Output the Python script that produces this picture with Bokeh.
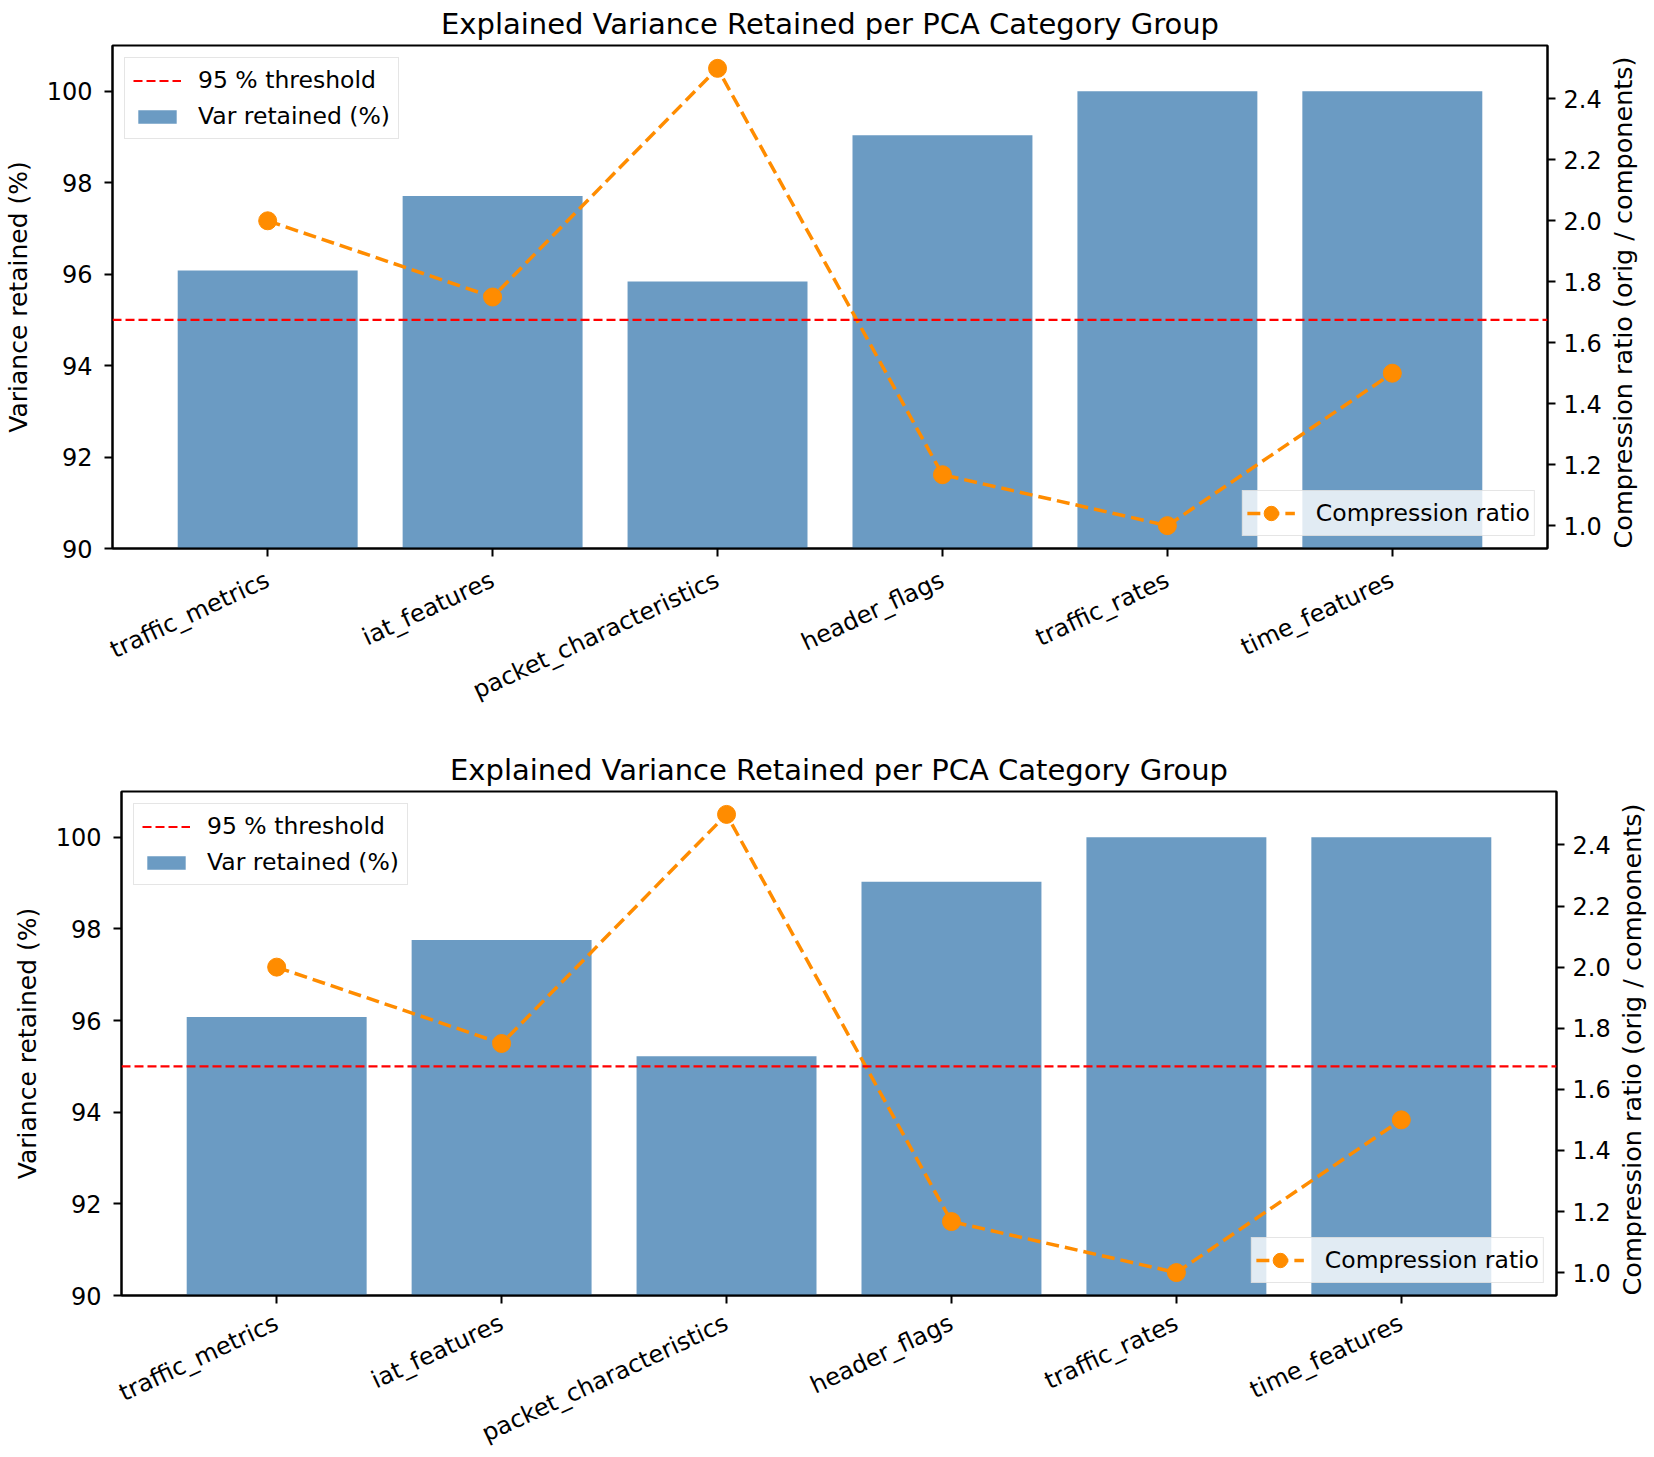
import math
from bokeh.plotting import figure
from bokeh.models import (Range1d, LinearAxis, Span, Legend, LegendItem, SingleIntervalTicker,
                          PrintfTickFormatter, FactorRange, ColumnDataSource, Spacer)
from bokeh.layouts import column, row
from bokeh.embed import file_html
from bokeh.resources import INLINE

# ---------------- data ----------------
categories = ["traffic_metrics", "iat_features", "packet_characteristics",
              "header_flags", "traffic_rates", "time_features"]
var_retained_top = [96.08, 97.71, 95.84, 99.04, 100.0, 100.0]
var_retained_bottom = [96.08, 97.76, 95.22, 99.03, 100.0, 100.0]
compression_ratio = [2.0, 1.75, 2.5, 1.167, 1.0, 1.5]
threshold = 95.0
y_limits = (90, 101)
ratio_limits = (0.925, 2.575)

title_text = "Explained Variance Retained per PCA Category Group"
y_label = "Variance retained (%)"
y2_label = "Compression ratio (orig / components)"
threshold_label = "95 % threshold"
bar_label = "Var retained (%)"
ratio_label = "Compression ratio"

FONT = "DejaVu Sans"
FRAME_W = 1435


def make_chart(values, border_top, border_bottom, frame_h, xlabel_standoff):
    src = ColumnDataSource(dict(cat=categories, var=values, ratio=compression_ratio))
    p = figure(x_range=FactorRange(*categories, range_padding=0.0633),
               y_range=Range1d(*y_limits),
               frame_width=FRAME_W, frame_height=frame_h,
               min_border_left=104, min_border_right=90,
               min_border_top=border_top, min_border_bottom=border_bottom,
               output_backend="svg", toolbar_location=None, title=title_text)
    p.extra_y_ranges = {"ratio": Range1d(*ratio_limits)}

    p.title.text_font = FONT
    p.title.text_font_size = "29px"
    p.title.text_font_style = "normal"
    p.title.text_color = "black"
    p.title.align = "center"
    p.title.standoff = 9

    p.xgrid.visible = False
    p.ygrid.visible = False
    p.outline_line_color = "black"
    p.outline_line_width = 2
    p.background_fill_color = "white"

    bars = p.vbar(x="cat", top="var", bottom=0, width=0.8, source=src,
                  fill_color="steelblue", fill_alpha=0.8, line_color=None)

    p.add_layout(Span(location=threshold, dimension="width", line_color="red",
                      line_dash="9 4", line_width=2.2))
    # legend-only stand-in for the threshold span (no drawable point)
    thr_legend = p.line(x=[categories[0]], y=[float("nan")], line_color="red",
                        line_dash="9 4", line_width=2.2)

    line_r = p.line(x="cat", y="ratio", source=src, y_range_name="ratio",
                    line_color="darkorange", line_dash="13 6", line_width=3.5)
    scat_r = p.scatter(x="cat", y="ratio", source=src, y_range_name="ratio",
                       size=18, fill_color="darkorange", line_color="darkorange")

    xa = p.xaxis[0]
    ya = p.yaxis[0]
    ya.ticker = SingleIntervalTicker(interval=2, num_minor_ticks=0)
    ya.axis_label = y_label
    ra = LinearAxis(y_range_name="ratio",
                    ticker=SingleIntervalTicker(interval=0.2, num_minor_ticks=0),
                    formatter=PrintfTickFormatter(format="%.1f"),
                    axis_label=y2_label)
    p.add_layout(ra, "right")
    for ax in (xa, ya, ra):
        ax.axis_line_width = 2
        ax.axis_line_color = "black"
        ax.major_tick_line_width = 2
        ax.major_tick_line_color = "black"
        ax.major_tick_out = 8
        ax.major_tick_in = 0
        ax.minor_tick_out = 0
        ax.minor_tick_in = 0
        ax.major_label_text_font = FONT
        ax.major_label_text_font_size = "24px"
        ax.major_label_text_color = "black"
        ax.major_label_standoff = 8
        ax.axis_label_text_font = FONT
        ax.axis_label_text_font_size = "25px"
        ax.axis_label_text_font_style = "normal"
        ax.axis_label_text_color = "black"
        ax.axis_label_standoff = 10
    xa.major_label_orientation = math.radians(25)
    xa.major_label_standoff = xlabel_standoff
    ya.major_label_standoff = 12
    ya.axis_label_standoff = 11

    # right-hand label reads bottom-to-top, as in the reference
    props = ra.properties()
    if "axis_label_orientation" in props:
        ra.axis_label_orientation = math.pi / 2
    if "axis_label_align" in props:
        ra.axis_label_align = "start"
    ra.axis_label_standoff = 18
    ra.axis_label_text_font_size = "25.5px"

    leg1 = Legend(items=[LegendItem(label=threshold_label, renderers=[thr_legend]),
                         LegendItem(label=bar_label, renderers=[bars])],
                  location="top_left")
    leg2 = Legend(items=[LegendItem(label=ratio_label, renderers=[line_r, scat_r])],
                  location="bottom_right")
    for lg in (leg1, leg2):
        lg.label_text_font = FONT
        lg.label_text_font_size = "23.5px"
        lg.label_text_color = "black"
        lg.glyph_width = 48
        lg.margin = 12
        lg.border_line_color = "#cccccc"
        lg.border_line_width = 1.5
        lg.background_fill_color = "white"
        lg.background_fill_alpha = 0.8
    leg1.glyph_height = 17
    leg1.padding = 8
    leg1.spacing = 8
    leg1.label_standoff = 17
    leg2.glyph_height = 36
    leg2.padding = 4
    leg2.label_standoff = 21
    p.add_layout(leg1)
    p.add_layout(leg2)
    return p


top = make_chart(var_retained_top, border_top=37, border_bottom=198, frame_h=503,
                 xlabel_standoff=22)
bottom = make_chart(var_retained_bottom, border_top=42, border_bottom=150, frame_h=504,
                    xlabel_standoff=18)

layout = column(top, row(Spacer(width=9, height=10), bottom))
open("out.html", "w").write(file_html(layout, INLINE))
